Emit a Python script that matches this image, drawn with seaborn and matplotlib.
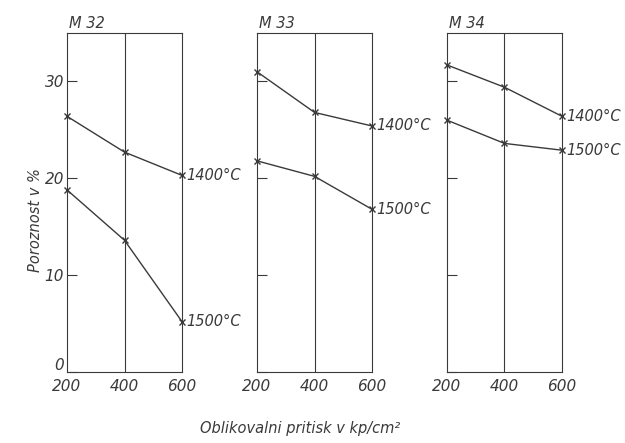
import matplotlib
matplotlib.use("Agg")
import matplotlib.pyplot as plt
import matplotlib.transforms as mtransforms
import seaborn as sns
import pandas as pd

sns.set_theme(style="white")
plt.rcParams['font.family'] = ['DejaVu Sans']

pressure = [200, 400, 600]
panels = ["M 32", "M 33", "M 34"]
temps = ["1400°C", "1500°C"]
m32_1400 = [26.4, 22.7, 20.3]
m32_1500 = [18.8, 13.6, 5.2]
m33_1400 = [31.0, 26.8, 25.4]
m33_1500 = [21.8, 20.2, 16.8]
m34_1400 = [31.7, 29.4, 26.4]
m34_1500 = [26.0, 23.6, 22.9]
yticks = [0, 10, 20, 30]

series = {
    "M 32": [m32_1400, m32_1500],
    "M 33": [m33_1400, m33_1500],
    "M 34": [m34_1400, m34_1500],
}

rows = []
for p in panels:
    for t, vals in zip(temps, series[p]):
        for x, v in zip(pressure, vals):
            rows.append({"panel": p, "temp": t, "pressure": x, "porosity": v})
df = pd.DataFrame(rows)

ink = "#3a3a3a"
fig = plt.figure(figsize=(6.25, 4.43), dpi=100)
lefts = [67 / 625, 257 / 625, 447 / 625]
bottom = (443 - 372) / 443
height = (372 - 33) / 443
width = 115 / 625

for i, (p, left) in enumerate(zip(panels, lefts)):
    ax = fig.add_axes([left, bottom, width, height])
    sub = df[df.panel == p]
    sns.lineplot(data=sub, x="pressure", y="porosity", units="temp",
                 estimator=None, color=ink, marker="x", markersize=5,
                 markeredgewidth=1.0, markeredgecolor=ink, linewidth=1.0,
                 ax=ax, legend=False, clip_on=False)
    ax.set_xlim(200, 600)
    ax.set_ylim(0, 35)
    ax.axvline(400, color=ink, linewidth=0.8)
    for sp in ax.spines.values():
        sp.set_color(ink)
        sp.set_linewidth(0.8)
    ax.set_xticks(pressure)
    ax.set_xticklabels([str(v) for v in pressure], fontstyle="italic",
                       fontsize=11, color=ink)
    ax.tick_params(axis="x", length=0, pad=5)
    ax.set_yticks(yticks)
    ax.tick_params(axis="y", direction="in", length=7, width=0.8,
                   color=ink, left=True, pad=2)
    if i == 0:
        ax.set_yticklabels([str(v) for v in yticks], fontstyle="italic",
                           fontsize=11, color=ink)
        lab0 = ax.get_yticklabels()[0]
        lab0.set_transform(lab0.get_transform() +
                           mtransforms.ScaledTranslation(0, 6 / 72, fig.dpi_scale_trans))
    else:
        ax.set_yticklabels([])
    ax.set_xlabel("")
    ax.set_ylabel("")
    ax.text(0.02, 1.005, p, transform=ax.transAxes, ha="left", va="bottom",
            fontstyle="italic", fontsize=10.5, color=ink)
    for t, vals in zip(temps, series[p]):
        ax.annotate(t, xy=(600, vals[-1]), xytext=(3, 0),
                    textcoords="offset points", ha="left", va="center",
                    fontstyle="italic", fontsize=10.5, color=ink,
                    annotation_clip=False)

fig.text(35 / 625, 1 - 220 / 443, "Poroznost v %", rotation=90,
         ha="center", va="center", fontstyle="italic", fontsize=10.5,
         color=ink)
fig.text(300 / 625, 1 - 428 / 443, "Oblikovalni pritisk v kp/cm²",
         ha="center", va="center", fontstyle="italic", fontsize=10.5,
         color=ink)

fig.savefig("out.png", dpi=100, facecolor="white")
